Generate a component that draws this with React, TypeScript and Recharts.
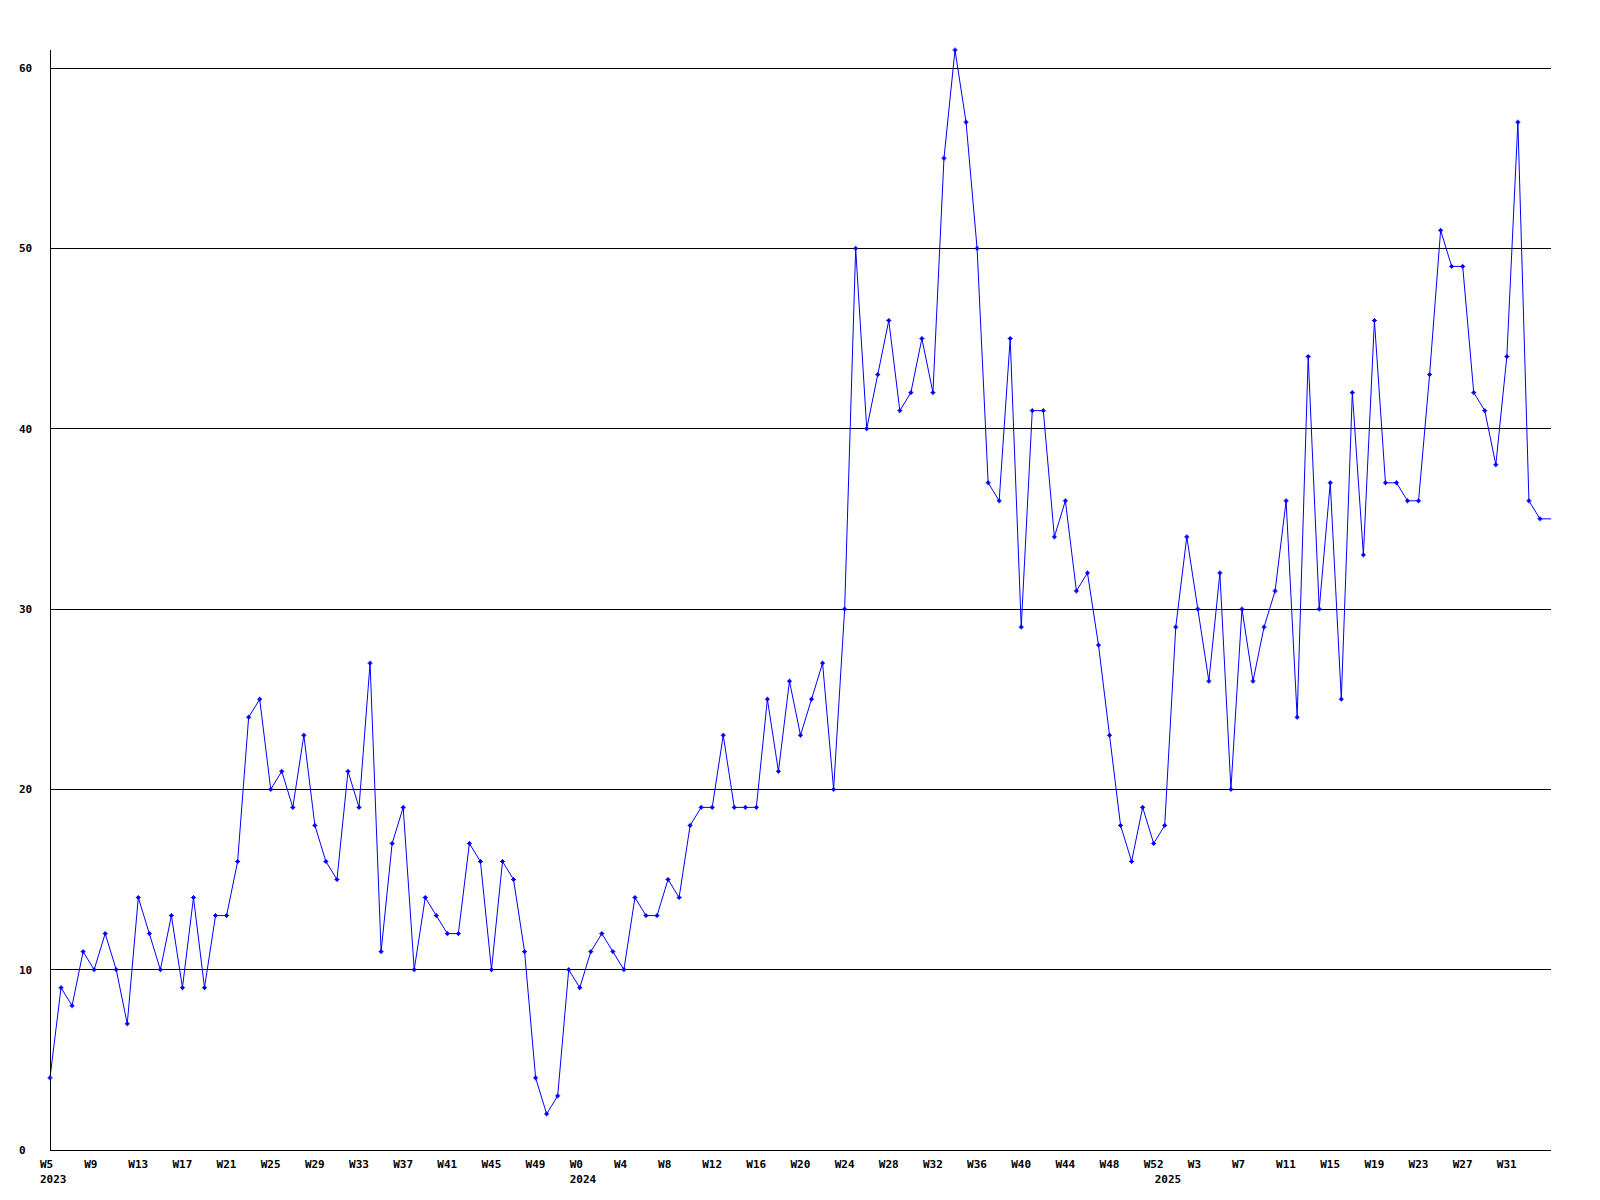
import { LineChart, Line, XAxis, YAxis, ReferenceLine } from "recharts";

// weekly counts
const startWeek2023 = 5;
const values2023 = [
  4, 9, 8, 11, 10, 12, 10, 7, 14, 12,
  10, 13, 9, 14, 9, 13, 13, 16, 24, 25,
  20, 21, 19, 23, 18, 16, 15, 21, 19, 27,
  11, 17, 19, 10, 14, 13, 12, 12, 17, 16,
  10, 16, 15, 11, 4, 2, 3, 10,
];
const startWeek2024 = 0;
const values2024 = [
  9, 11, 12, 11, 10, 14, 13, 13, 15, 14,
  18, 19, 19, 23, 19, 19, 19, 25, 21, 26,
  23, 25, 27, 20, 30, 50, 40, 43, 46, 41,
  42, 45, 42, 55, 61, 57, 50, 37, 36, 45,
  29, 41, 41, 34, 36, 31, 32, 28, 23, 18,
  16, 19, 17,
];
const startWeek2025 = 0;
const values2025 = [
  18, 29, 34, 30, 26, 32, 20, 30, 26, 29,
  31, 36, 24, 44, 30, 37, 25, 42, 33, 46,
  37, 37, 36, 36, 43, 51, 49, 49, 42, 41,
  38, 44, 57, 36, 35, 35,
];
const yTicks = [0, 10, 20, 30, 40, 50, 60];

const years = [
  { year: 2023, start: startWeek2023, values: values2023 },
  { year: 2024, start: startWeek2024, values: values2024 },
  { year: 2025, start: startWeek2025, values: values2025 },
];

const data: { i: number; week: number; year: number; first: boolean; value: number }[] = [];
years.forEach((y) => {
  y.values.forEach((v, k) => {
    data.push({ i: data.length, week: y.start + k, year: y.year, first: k === 0, value: v });
  });
});

const lastIndex = data.length - 1;
const xTicks = data
  .filter((d) => (d.i % 4 === 0 || d.first) && d.i < lastIndex)
  .map((d) => d.i);

const font = "'DejaVu Sans Mono', monospace";
const BLUE = "#0000ff";

const XTick = (props: any) => {
  const { x, y, payload } = props;
  const row = data[payload.value];
  if (!row) return null;
  return (
    <g>
      {row.i % 4 === 0 && (
        <text x={x - 10} y={y + 16} fontFamily={font} fontWeight="bold" fontSize={11} fill="#000" textAnchor="start">
          {"W" + row.week}
        </text>
      )}
      {row.first && (
        <text x={x - 10} y={y + 31} fontFamily={font} fontWeight="bold" fontSize={11} fill="#000" textAnchor="start">
          {row.year}
        </text>
      )}
    </g>
  );
};

const YTick = (props: any) => {
  const { y, payload } = props;
  return (
    <text x={19} y={y + 4} fontFamily={font} fontWeight="bold" fontSize={11} fill="#000" textAnchor="start">
      {payload.value}
    </text>
  );
};

const PlusDot = (props: any) => {
  const { cx, cy, index } = props;
  if (index === lastIndex || cx == null) return null;
  return (
    <g key={index}>
      <path d={`M${cx - 2.5},${cy}H${cx + 2.5}M${cx},${cy - 2.5}V${cy + 2.5}`} stroke={BLUE} strokeWidth={1} />
      <rect x={cx - 1.5} y={cy - 1.5} width={3} height={3} fill={BLUE} />
    </g>
  );
};

export default function App() {
  return (
    <div style={{ position: "absolute", left: 0, top: 0, background: "#fff" }}>
      <LineChart width={1600} height={1200} data={data} margin={{ top: 50, right: 49, bottom: 0, left: 0 }}>
        <XAxis
          type="number"
          dataKey="i"
          domain={[0, lastIndex]}
          ticks={xTicks}
          interval={0}
          height={50}
          tickLine={false}
          tickSize={0}
          axisLine={{ stroke: "#000", strokeWidth: 1, shapeRendering: "crispEdges" }}
          tick={<XTick />}
        />
        <YAxis
          type="number"
          domain={[0, "dataMax"]}
          ticks={yTicks}
          interval={0}
          width={50}
          tickLine={false}
          tickSize={0}
          axisLine={{ stroke: "#000", strokeWidth: 1, shapeRendering: "crispEdges" }}
          tick={<YTick />}
        />
        {yTicks
          .filter((t) => t > 0)
          .map((t) => (
            <ReferenceLine key={t} y={t} stroke="#000" strokeWidth={1} shapeRendering="crispEdges" />
          ))}
        <Line
          type="linear"
          dataKey="value"
          stroke={BLUE}
          strokeWidth={1}
          dot={<PlusDot />}
          activeDot={false}
          isAnimationActive={false}
        />
      </LineChart>
    </div>
  );
}
